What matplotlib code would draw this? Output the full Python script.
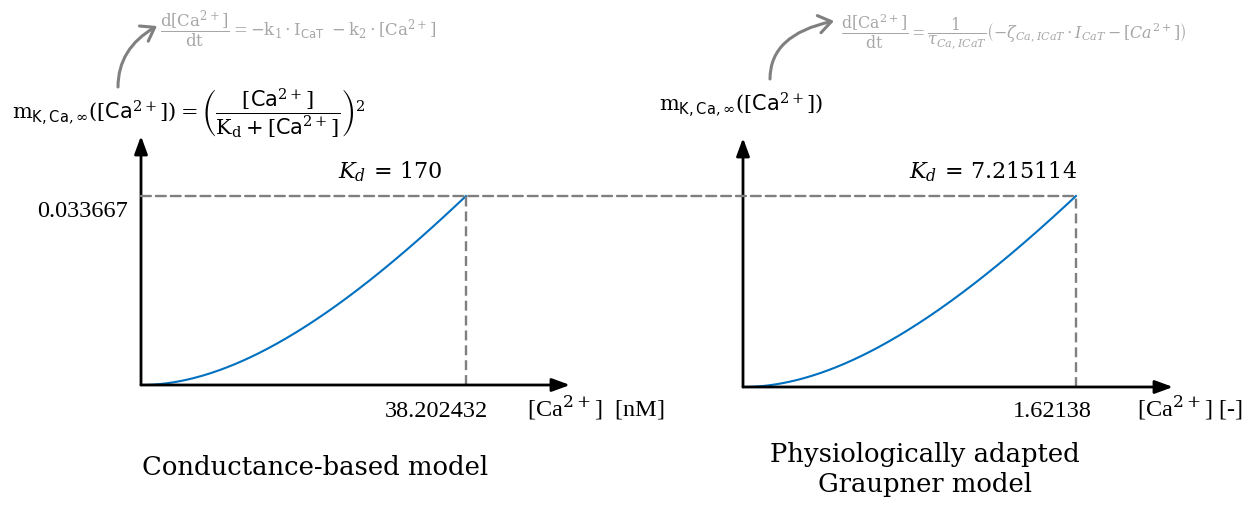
import numpy as np
import matplotlib.pyplot as plt
from matplotlib.patches import ConnectionPatch, FancyArrowPatch

plt.rcParams['font.family'] = 'Liberation Serif'
plt.rcParams['mathtext.fontset'] = 'dejavuserif'

# steady-state Ca-dependent K activation, two parameterisations
kd_cond = 170.0
ca_cond_max = 38.202432
kd_graup = 7.215114
ca_graup_max = 1.62138
m_top = 0.033667

ca_cond = np.linspace(0, ca_cond_max, 200)
ca_graup = np.linspace(0, ca_graup_max, 200)
m_cond = (ca_cond / (kd_cond + ca_cond)) ** 2
m_graup = (ca_graup / (kd_graup + ca_graup)) ** 2

W, H = 1255, 506
fig = plt.figure(figsize=(W / 100, H / 100), dpi=100)


def px(x, y):
    # pixel position measured from the top-left corner -> figure fraction
    return x / W, 1 - y / H


def add_plot(x0, y0, xtip, ytip, xlim, ylim):
    l, b = px(x0, y0)
    ax = fig.add_axes([l, b, (xtip - x0) / W, (y0 - ytip) / H])
    ax.set_xlim(0, xlim)
    ax.set_ylim(0, ylim)
    ax.axis('off')
    for tip in [(1, 0), (0, 1)]:
        ax.annotate('', xy=tip, xytext=(0, 0), xycoords='axes fraction',
                    arrowprops=dict(arrowstyle='-|>,head_length=0.6,head_width=0.22',
                                    color='black', lw=2, mutation_scale=18,
                                    shrinkA=0, shrinkB=0))
    return ax


ax1 = add_plot(141, 386, 570, 137, 50.43, 0.04436)
ax2 = add_plot(743, 388, 1173, 139, 2.094, 0.04389)

blue = '#0070c0'
dash = dict(color='#7f7f7f', lw=1.7, ls=(0, (4.2, 2.1)))
ax1.plot(ca_cond, m_cond, color=blue, lw=1.5, clip_on=False)
ax2.plot(ca_graup, m_graup, color=blue, lw=1.5, clip_on=False)
ax1.plot([ca_cond_max, ca_cond_max], [0, m_top], **dash, clip_on=False)
ax2.plot([ca_graup_max, ca_graup_max], [0, m_top], **dash, clip_on=False)
con = ConnectionPatch(xyA=(0, m_top), coordsA=ax1.transData,
                      xyB=(ca_graup_max, m_top), coordsB=ax2.transData,
                      **dash)
fig.add_artist(con)

# axis annotations
num_fs = 17.5
fig.text(*px(128, 217), '0.033667', ha='right', va='baseline', fontsize=num_fs)
fig.text(*px(488, 417), '38.202432', ha='right', va='baseline', fontsize=num_fs)
fig.text(*px(1092, 417), '1.62138', ha='right', va='baseline', fontsize=num_fs)
fig.text(*px(527, 417), '[Ca$^{2+}$]  [nM]', ha='left', va='baseline',
         fontsize=num_fs)
fig.text(*px(1137, 417), '[Ca$^{2+}$] [-]', ha='left', va='baseline',
         fontsize=num_fs)

fig.text(*px(390, 178), r'$K_d\,=\,170$', ha='center', va='baseline', fontsize=16)
fig.text(*px(993, 178), r'$K_d\,=\,7.215114$', ha='center', va='baseline',
         fontsize=16)

# model names
title_kw = dict(ha='center', va='baseline', fontsize=18.6, family='DejaVu Serif')
fig.text(*px(315, 475), 'Conductance-based model', **title_kw)
fig.text(*px(925, 462), 'Physiologically adapted', **title_kw)
fig.text(*px(925, 492), 'Graupner model', **title_kw)

# model equations
eq_fs = 15
ca = r'[\mathsf{Ca}^{2+}]'
m_inf = r'\mathrm{m}_{\mathsf{K,Ca},\infty}(' + ca + ')'
fig.text(*px(12, 120),
         '$' + m_inf + r' = \left(\dfrac{' + ca + r'}{\mathrm{K_d} + ' + ca
         + r'}\right)^2$',
         ha='left', va='baseline', fontsize=eq_fs)
fig.text(*px(659, 110), '$' + m_inf + '$', ha='left', va='baseline',
         fontsize=eq_fs)

grey_txt = '#a6a6a6'
fig.text(*px(160, 30),
         r'$\dfrac{\mathrm{d}[\mathrm{Ca}^{2+}]}{\mathrm{dt}} = -\mathrm{k_1}\cdot'
         r'\mathrm{I}_{\mathsf{CaT}}\ -\mathrm{k_2}\cdot[\mathrm{Ca}^{2+}]$',
         ha='left', va='center', fontsize=11.9, color=grey_txt)
fig.text(*px(841, 32),
         r'$\dfrac{\mathrm{d}[\mathrm{Ca}^{2+}]}{\mathrm{dt}} = '
         r'\dfrac{1}{\tau_{Ca,ICaT}}\left(-\zeta_{Ca,ICaT}\cdot I_{CaT} - [Ca^{2+}]\right)$',
         ha='left', va='center', fontsize=11.4, color=grey_txt)

arrow_kw = dict(arrowstyle='->,head_length=0.5,head_width=0.35', color='#808080',
                lw=2.2, mutation_scale=18, shrinkA=0, shrinkB=0)
fig.add_artist(FancyArrowPatch(
    px(118, 88), px(157, 27), transform=fig.transFigure,
    connectionstyle='angle3,angleA=90,angleB=30', **arrow_kw))
fig.add_artist(FancyArrowPatch(
    px(770, 80), px(834, 22), transform=fig.transFigure,
    connectionstyle='angle3,angleA=90,angleB=12', **arrow_kw))

fig.savefig('out.png', dpi=100)
